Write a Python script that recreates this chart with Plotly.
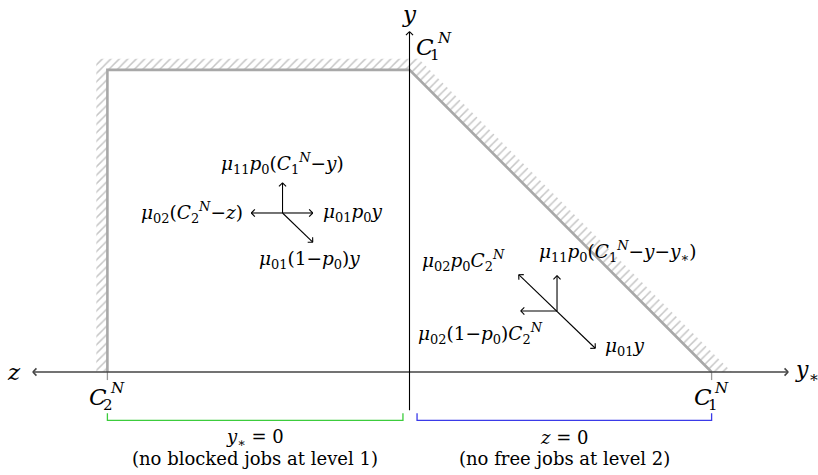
import plotly.graph_objects as go
import numpy as np

# ---------------- data ----------------
C1 = 3.0          # C_1^N  (y-axis and y_* axis intercept)
C2 = 3.0          # C_2^N  (z axis intercept)
boundary_u = [-C2, -C2, 0.0, C1]
boundary_v = [0.0, C1, C1, 0.0]
axis_h = [-3.74, 3.76]        # horizontal axis (z <- -> y_*)
axis_v = [-0.38, 3.38]        # vertical axis (y)
tick_len = 0.08
hatch_w = 0.11
hatch_wd = 0.20

# flow arrows: origin and vectors
left_origin = (-1.261, 1.579)
left_vecs = {"up": (0.0, 0.30), "left": (-0.31, 0.0), "right": (0.30, 0.0), "diag": (0.30, -0.29)}
right_origin = (1.465, 0.606)
right_vecs = {"up": (0.0, 0.35), "left": (-0.36, 0.0), "upleft": (-0.38, 0.36), "downright": (0.38, -0.37)}

bracket_left = [-C2, -0.065]
bracket_right = [0.075, C1]
bracket_level = -0.48
bracket_tick = -0.41

labels_left = {
    "up": "<i>μ</i><sub>11</sub><i>p</i><sub>0</sub>(<i>C</i><sub>1</sub><sup><i>N</i></sup>−<i>y</i>)",
    "left": "<i>μ</i><sub>02</sub>(<i>C</i><sub>2</sub><sup><i>N</i></sup>−<i>z</i>)",
    "right": "<i>μ</i><sub>01</sub><i>p</i><sub>0</sub><i>y</i>",
    "diag": "<i>μ</i><sub>01</sub>(1−<i>p</i><sub>0</sub>)<i>y</i>",
}
labels_right = {
    "upleft": "<i>μ</i><sub>02</sub><i>p</i><sub>0</sub><i>C</i><sub>2</sub><sup><i>N</i></sup>",
    "up": "<i>μ</i><sub>11</sub><i>p</i><sub>0</sub>(<i>C</i><sub>1</sub><sup><i>N</i></sup>−<i>y</i>−<i>y</i><sub>∗</sub>)",
    "left": "<i>μ</i><sub>02</sub>(1−<i>p</i><sub>0</sub>)<i>C</i><sub>2</sub><sup><i>N</i></sup>",
    "downright": "<i>μ</i><sub>01</sub><i>y</i>",
}
bottom_left_text = ["<i>y</i><sub>∗</sub> = 0", "(no blocked jobs at level 1)"]
bottom_right_text = ["<i>z</i> = 0", "(no free jobs at level 2)"]

# ---------------- helpers ----------------
HEAD = 0.05
ANG = np.deg2rad(45)


def head(x0, y0, x1, y1):
    d = np.array([x1 - x0, y1 - y0], float)
    d /= np.linalg.norm(d)
    xs, ys = [], []
    for s in (1, -1):
        c, si = np.cos(s * ANG), np.sin(s * ANG)
        r = np.array([c * d[0] - si * d[1], si * d[0] + c * d[1]])
        xs += [x1, x1 - HEAD * r[0], None]
        ys += [y1, y1 - HEAD * r[1], None]
    return xs, ys


def arrow(x0, y0, x1, y1, both=False):
    xs, ys = [x0, x1, None], [y0, y1, None]
    hx, hy = head(x0, y0, x1, y1)
    xs += hx; ys += hy
    if both:
        hx, hy = head(x1, y1, x0, y0)
        xs += hx; ys += hy
    return xs, ys


fig = go.Figure()

# hatch band outside boundary
hx = [-C2, -C2 - hatch_w, -C2 - hatch_w, C1 + hatch_wd - (C1 + hatch_w), C1 + hatch_wd, C1, 0.0, -C2, -C2]
hy = [0.0, 0.0, C1 + hatch_w, C1 + hatch_w, 0.0, 0.0, C1, C1, 0.0]
fig.add_trace(go.Scatter(x=hx, y=hy, mode="lines", line=dict(width=0), fill="toself",
                         fillcolor="rgba(0,0,0,0)",
                         fillpattern=dict(shape="/", fgcolor="#8e8e8e", bgcolor="rgba(255,255,255,0)",
                                          size=6, solidity=0.25),
                         hoverinfo="skip", showlegend=False))

# gray boundary
fig.add_trace(go.Scatter(x=boundary_u, y=boundary_v, mode="lines",
                         line=dict(color="#a8a8a8", width=2.6), hoverinfo="skip", showlegend=False))
# ticks
tx, ty = [], []
for u in (-C2, C1):
    tx += [u, u, None]; ty += [0, -tick_len, None]
fig.add_trace(go.Scatter(x=tx, y=ty, mode="lines", line=dict(color="#999999", width=1.3),
                         hoverinfo="skip", showlegend=False))

# horizontal axis (double arrow)
xs, ys = arrow(axis_h[0], 0, axis_h[1], 0, both=True)
fig.add_trace(go.Scatter(x=xs, y=ys, mode="lines", line=dict(color="#444444", width=1.6),
                         hoverinfo="skip", showlegend=False))
# vertical axis
xs, ys = arrow(0, axis_v[0], 0, axis_v[1])
fig.add_trace(go.Scatter(x=xs, y=ys, mode="lines", line=dict(color="black", width=1.1),
                         hoverinfo="skip", showlegend=False))

# flow arrows
fx, fy = [], []
ox, oy = left_origin
for k, (dx, dy) in left_vecs.items():
    a, b = arrow(ox, oy, ox + dx, oy + dy)
    fx += a; fy += b
ox, oy = right_origin
for k in ("up", "left"):
    dx, dy = right_vecs[k]
    a, b = arrow(ox, oy, ox + dx, oy + dy)
    fx += a; fy += b
ul, dr = right_vecs["upleft"], right_vecs["downright"]
a, b = arrow(ox + ul[0], oy + ul[1], ox + dr[0], oy + dr[1], both=True)
fx += a; fy += b
fig.add_trace(go.Scatter(x=fx, y=fy, mode="lines", line=dict(color="black", width=1.1),
                         hoverinfo="skip", showlegend=False))

# brackets
for (b0, b1), col in ((bracket_left, "#3ccc3c"), (bracket_right, "#3a3ae8")):
    fig.add_trace(go.Scatter(x=[b0, b0, b1, b1], y=[bracket_tick, bracket_level, bracket_level, bracket_tick],
                             mode="lines", line=dict(color=col, width=1.3),
                             hoverinfo="skip", showlegend=False))

ann = []


def T(x, y, text, size=16, xa="center", ya="middle"):
    ann.append(dict(x=x, y=y, text=text, showarrow=False, xanchor=xa, yanchor=ya,
                    font=dict(size=size, color="black")))


MS = 18.5
# left flow labels
ox, oy = left_origin
T(ox, oy + 0.49, labels_left["up"], MS)
T(ox - 0.37, oy, labels_left["left"], MS, xa="right")
T(ox + 0.38, oy, labels_left["right"], MS, xa="left")
T(ox + 0.27, oy - 0.465, labels_left["diag"], MS)
# right flow labels
ox, oy = right_origin
T(ox - 0.93, oy + 0.506, labels_right["upleft"], MS)
T(ox + 0.6, oy + 0.594, labels_right["up"], MS)
T(ox - 0.76, oy - 0.22, labels_right["left"], MS)
T(ox + 0.46, oy - 0.358, labels_right["downright"], MS, xa="left")

# axis labels
T(0, axis_v[1] + 0.18, "<i>y</i>", 23)
T(axis_h[0] - 0.1, 0, "<i>z</i>", 23, xa="right")
T(axis_h[1] + 0.05, 0.01, "<i>y</i><sub>∗</sub>", 22, xa="left")


def bigC(u, v, sub):
    T(u - 0.09, v, "<i>C</i>", 23)
    T(u + 0.1, v + 0.09, "<i>N</i>", 15)
    T(u + 0.01, v - 0.08, sub, 15)


bigC(-C2, -0.25, "2")
bigC(C1, -0.25, "1")
bigC(0.245, C1 + 0.23, "1")

# bottom texts
for (b0, b1), lines in ((bracket_left, bottom_left_text), (bracket_right, bottom_right_text)):
    m = (b0 + b1) / 2
    T(m, -0.655, lines[0], 18)
    T(m, -0.855, lines[1], 18)

fig.update_layout(
    width=818, height=475, margin=dict(l=0, r=0, t=0, b=0),
    paper_bgcolor="white", plot_bgcolor="white",
    font=dict(family="DejaVu Serif", color="black"),
    xaxis=dict(range=[-4.0665, 4.0566], visible=False, fixedrange=True),
    yaxis=dict(range=[-1.0228, 3.6941], visible=False, fixedrange=True),
    annotations=ann, showlegend=False,
)
fig.write_html("out.html", config={"displayModeBar": False},
               post_script="document.body.style.margin='0';document.body.style.overflow='hidden';")
